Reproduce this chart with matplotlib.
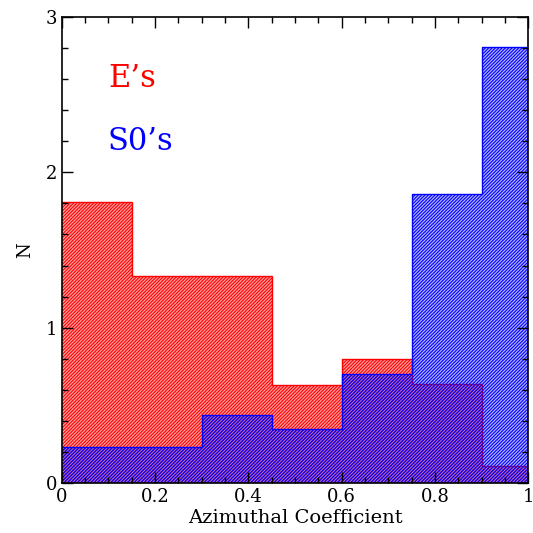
import numpy as np
import matplotlib
matplotlib.use("Agg")
import matplotlib.pyplot as plt
from matplotlib.ticker import MultipleLocator

edges = [0.0, 0.15, 0.3, 0.45, 0.6, 0.75, 0.9, 1.0]
e_counts = [1.81, 1.33, 1.33, 0.63, 0.80, 0.64, 0.11]
s0_counts = [0.23, 0.23, 0.44, 0.35, 0.70, 1.86, 2.81]

plt.rcParams["hatch.linewidth"] = 0.8
plt.rcParams["font.family"] = "DejaVu Serif"

fig = plt.figure(figsize=(5.33, 5.33), dpi=100)
ax = fig.add_axes([0.116, 0.094, 0.875, 0.874])

x = np.array(edges)
# E's underneath, S0's on top (semi-transparent so the overlap goes purple)
ax.stairs(e_counts, x, fill=True, facecolor="#ffa0a0", edgecolor="red",
          hatch="//////////", linewidth=0)
ax.stairs(e_counts, x, color="red", linewidth=1.0, baseline=None)
ax.stairs(s0_counts, x, fill=True, facecolor=(0.0, 0.0, 1.0, 0.3), edgecolor="blue",
          hatch="//////////", linewidth=0)
ax.stairs(s0_counts, x, color="blue", linewidth=1.0, baseline=None)

ax.set_xlim(0, 1)
ax.set_ylim(0, 3)
ax.xaxis.set_major_locator(MultipleLocator(0.2))
ax.xaxis.set_minor_locator(MultipleLocator(0.05))
ax.yaxis.set_major_locator(MultipleLocator(1))
ax.yaxis.set_minor_locator(MultipleLocator(0.2))
ax.xaxis.set_major_formatter(plt.FuncFormatter(lambda v, p: "%g" % v))
ax.tick_params(which="both", direction="in", top=True, right=True, labelsize=13)
ax.tick_params(which="major", length=8, width=1)
ax.tick_params(which="minor", length=4, width=1)
for s in ax.spines.values():
    s.set_linewidth(1.2)
    s.set_zorder(5)
ax.set_xlabel("Azimuthal Coefficient", fontsize=14, labelpad=2)
ax.set_ylabel("N", fontsize=13, labelpad=8)

ax.text(0.099, 0.869, "E\u2019s", color="red", fontsize=22, transform=ax.transAxes, va="center")
ax.text(0.099, 0.732, "S0\u2019s", color="blue", fontsize=22, transform=ax.transAxes, va="center")

fig.savefig("out.png", dpi=100)
